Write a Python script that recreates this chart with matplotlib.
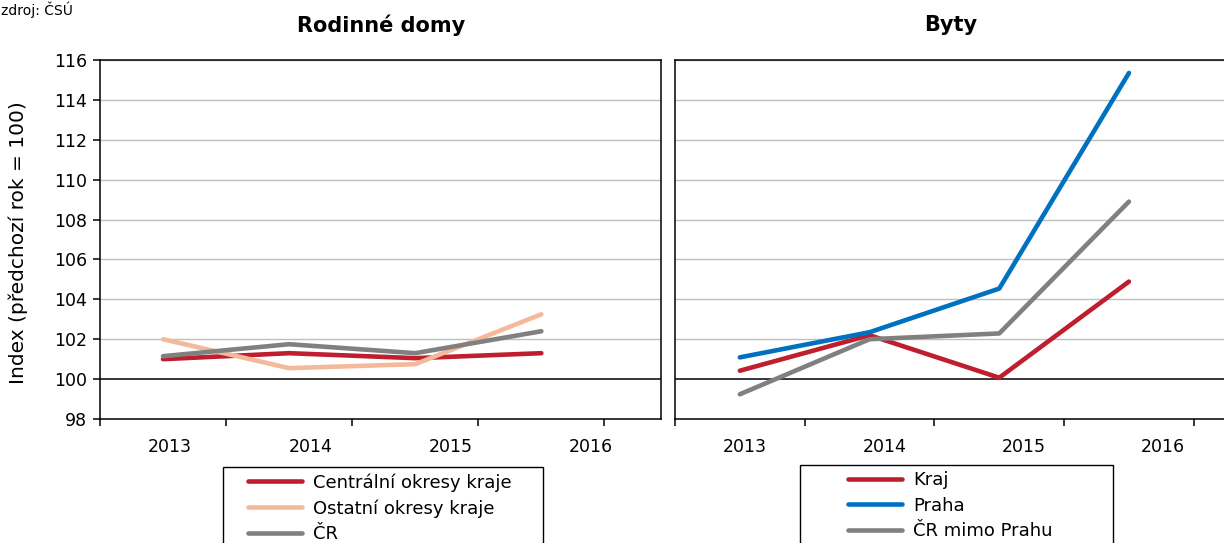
import matplotlib
matplotlib.use("Agg")
import matplotlib.pyplot as plt
from matplotlib.patches import Rectangle
import numpy as np

plt.rcParams['font.family'] = ['DejaVu Sans']

years = ["2013", "2014", "2015", "2016"]

# Rodinné domy
centralni = [101.0, 101.3, 101.05, 101.3]
ostatni = [102.0, 100.55, 100.75, 103.25]
cr = [101.15, 101.75, 101.3, 102.4]

# Byty
kraj = [100.42, 102.2, 100.07, 104.89]
praha = [101.09, 102.35, 104.54, 115.35]
cr_mimo = [99.24, 102.0, 102.29, 108.9]

yticks = list(range(98, 117, 2))

RED = "#BE1E2D"
PEACH = "#F4B99A"
GRAY = "#808080"
BLUE = "#0070C0"

W, H = 1224, 543
fig = plt.figure(figsize=(W / 100, H / 100), dpi=100)


def fx(px):
    return px / W


def fy(py):
    return 1 - py / H


def make_axes(left_px, right_px, step, show_y):
    ax = fig.add_axes([fx(left_px), fy(419), fx(right_px - left_px), (419 - 60) / H])
    ax.set_xlim(0, 4)
    ax.set_ylim(98, 116)
    for y in yticks[2:]:
        ax.axhline(y, color="#BFBFBF", lw=1.0, zorder=1)
    ax.axhline(100, color="black", lw=1.1, zorder=1)
    for s in ax.spines.values():
        s.set_color("black")
        s.set_linewidth(1.1)
    # category labels on full-width slots
    ax.set_xticks([0.5, 1.5, 2.5, 3.5])
    ax.set_xticklabels(years, fontsize=12.5)
    ax.tick_params(axis='x', which='major', length=0, pad=14)
    ax.set_xticks([k * step for k in range(5)], minor=True)
    ax.tick_params(axis='x', which='minor', length=5, width=1.1, direction='out', color='black')
    ax.set_yticks(yticks)
    if show_y:
        ax.set_yticklabels([str(v) for v in yticks], fontsize=12.5)
        ax.tick_params(axis='y', length=5, width=1.1, direction='out', pad=4)
    else:
        ax.set_yticklabels([])
        ax.tick_params(axis='y', length=0)
    xs = [(i + 0.5) * step for i in range(len(years))]
    return ax, xs


ax1, xs1 = make_axes(100, 661, 126.1 / 140.25, True)
ax2, xs2 = make_axes(675, 1233, 129.7 / 139.5, False)

lw = 3.3
l1, = ax1.plot(xs1, centralni, color=RED, lw=lw, solid_capstyle='round', zorder=3)
l2, = ax1.plot(xs1, ostatni, color=PEACH, lw=lw, solid_capstyle='round', zorder=3)
l3, = ax1.plot(xs1, cr, color=GRAY, lw=lw, solid_capstyle='round', zorder=3)

r1, = ax2.plot(xs2, kraj, color=RED, lw=lw, solid_capstyle='round', zorder=3)
r2, = ax2.plot(xs2, praha, color=BLUE, lw=lw, solid_capstyle='round', zorder=3)
r3, = ax2.plot(xs2, cr_mimo, color=GRAY, lw=lw, solid_capstyle='round', zorder=3)

fig.text(fx(18), fy(243), "Index (předchozí rok = 100)", fontsize=14.5,
         rotation=90, ha='center', va='center')

fig.text(fx(381), fy(25), "Rodinné domy", fontsize=15, fontweight='bold', ha='center', va='center')
fig.text(fx(951), fy(25), "Byty", fontsize=15, fontweight='bold', ha='center', va='center')
fig.text(fx(1), fy(1), "zdroj: ČSÚ", fontsize=10, ha='left', va='top')

# legend frames
fig.add_artist(Rectangle((fx(223), fy(560)), fx(543 - 223), (560 - 467) / H,
                         transform=fig.transFigure, fill=False, ec='black', lw=1.0))
fig.add_artist(Rectangle((fx(800), fy(560)), fx(1113 - 800), (560 - 465) / H,
                         transform=fig.transFigure, fill=False, ec='black', lw=1.0))

leg_kw = dict(frameon=False, fontsize=13, handlelength=3.0, handletextpad=0.6,
              labelspacing=0.42, borderpad=0, borderaxespad=0, loc='upper left')
leg1 = fig.legend([l1, l2, l3], ["Centrální okresy kraje", "Ostatní okresy kraje", "ČR"],
                  bbox_to_anchor=(fx(248), fy(473)), **leg_kw)
leg2 = fig.legend([r1, r2, r3], ["Kraj", "Praha", "ČR mimo Prahu"],
                  bbox_to_anchor=(fx(848), fy(471)), **leg_kw)

fig.savefig("out.png", dpi=100)
